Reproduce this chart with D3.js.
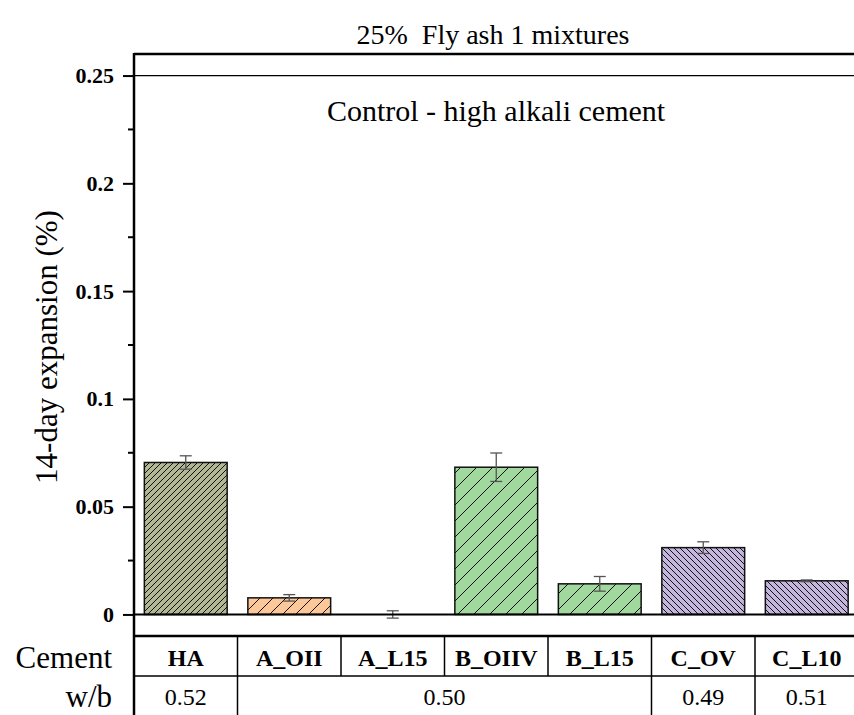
<!DOCTYPE html>
<html>
<head>
<meta charset="utf-8">
<script src="https://cdn.jsdelivr.net/npm/d3@7"></script>
<style>
  body { margin: 0; background: #fff; }
</style>
</head>
<body>
<div id="chart"></div>
<script>
const cements = ['HA', 'A_OII', 'A_L15', 'B_OIIV', 'B_L15', 'C_OV', 'C_L10'];
const expansion = [0.0705, 0.0077, 0.0, 0.0683, 0.0142, 0.0310, 0.0156];
const errors = [0.0031, 0.0015, 0.0017, 0.0066, 0.0034, 0.0027, 0.0004];
const groups = ['HA', 'A', 'A', 'B', 'B', 'C', 'C'];
const wbLabels = [
  { text: '0.52', from: 0, to: 0 },
  { text: '0.50', from: 1, to: 4 },
  { text: '0.49', from: 5, to: 5 },
  { text: '0.51', from: 6, to: 6 }
];
const controlValue = 0.25;
const yTicks = [0, 0.05, 0.1, 0.15, 0.2, 0.25];

const serif = "'Liberation Serif', 'DejaVu Serif', serif";

const chart = () => {
  const width = 854;
  const height = 715;
  const left = 134, right = 858.5, top = 54, bottom = 636;
  const row1 = 676;

  const svg = d3.select('#chart')
    .append('svg')
    .attr('width', width)
    .attr('height', height)
    .attr('font-family', serif)
    .style('font-family', serif);

  const x = d3.scaleBand()
    .domain(cements)
    .range([left, right])
    .paddingInner(0.2)
    .paddingOuter(0.1);
  const y = d3.scaleLinear()
    .domain([-0.01, 0.26])
    .range([bottom, top]);

  // hatch patterns per cement group
  const fills = {
    HA: { color: '#b3b894', size: 6, dir: 1 },
    A: { color: '#fdc899', size: 13, dir: 1 },
    B: { color: '#a0d89e', size: 16, dir: 1 },
    C: { color: '#c4b6dc', size: 6, dir: -1 }
  };
  const defs = svg.append('defs');
  Object.entries(fills).forEach(([k, f]) => {
    const p = defs.append('pattern')
      .attr('id', `hatch-${k}`)
      .attr('patternUnits', 'userSpaceOnUse')
      .attr('width', f.size)
      .attr('height', f.size);
    p.append('rect')
      .attr('width', f.size)
      .attr('height', f.size)
      .attr('fill', f.color);
    const s = f.size;
    const segs = f.dir > 0
      ? [[0, s, s, 0], [-s / 2, s / 2, s / 2, -s / 2], [s / 2, s * 1.5, s * 1.5, s / 2]]
      : [[0, 0, s, s], [-s / 2, s / 2, s / 2, s * 1.5], [s / 2, -s / 2, s * 1.5, s / 2]];
    segs.forEach(d => p.append('line')
      .attr('x1', d[0]).attr('y1', d[1]).attr('x2', d[2]).attr('y2', d[3])
      .attr('stroke', '#111')
      .attr('stroke-width', 1));
  });

  const label = (x0, y0, txt, size, anchor = 'middle', weight = 'normal') =>
    svg.append('text')
      .attr('x', x0)
      .attr('y', y0)
      .attr('text-anchor', anchor)
      .style('font-family', serif)
      .style('font-size', `${size}px`)
      .style('font-weight', weight)
      .text(txt);

  // title
  label(493, 44, '25%\u00a0\u00a0Fly ash 1 mixtures', 28);

  // control line
  svg.append('line')
    .attr('x1', left).attr('x2', width)
    .attr('y1', y(controlValue)).attr('y2', y(controlValue))
    .attr('stroke', '#000')
    .attr('stroke-width', 1.2);
  label(496, 121, 'Control - high alkali cement', 30);

  // bars
  svg.append('g')
    .selectAll('rect')
    .data(cements.filter((d, i) => expansion[i] > 0))
    .join('rect')
    .attr('x', d => x(d))
    .attr('y', d => y(expansion[cements.indexOf(d)]))
    .attr('width', x.bandwidth())
    .attr('height', d => y(0) - y(expansion[cements.indexOf(d)]))
    .attr('fill', d => `url(#hatch-${groups[cements.indexOf(d)]})`)
    .attr('stroke', '#111')
    .attr('stroke-width', 1.5);

  // error bars
  const err = svg.append('g')
    .attr('stroke', '#555')
    .attr('stroke-width', 1.3);
  cements.forEach((c, i) => {
    const cx = x(c) + x.bandwidth() / 2;
    const y1 = y(expansion[i] + errors[i]);
    const y2 = y(expansion[i] - errors[i]);
    err.append('line').attr('x1', cx).attr('x2', cx).attr('y1', y1).attr('y2', y2);
    err.append('line').attr('x1', cx - 6).attr('x2', cx + 6).attr('y1', y1).attr('y2', y1);
    err.append('line').attr('x1', cx - 6).attr('x2', cx + 6).attr('y1', y2).attr('y2', y2);
  });

  // zero line
  svg.append('line')
    .attr('x1', left).attr('x2', width)
    .attr('y1', y(0)).attr('y2', y(0))
    .attr('stroke', '#000')
    .attr('stroke-width', 2);

  // y axis
  const yAxis = svg.append('g')
    .attr('transform', `translate(${left},0)`)
    .call(d3.axisLeft(y)
      .tickValues(yTicks)
      .tickSize(11)
      .tickPadding(9)
      .tickFormat(d => d === 0 ? '0' : String(+d.toFixed(2))));
  yAxis.attr('font-family', serif);
  yAxis.select('.domain').remove();
  yAxis.selectAll('.tick line').attr('stroke-width', 2);
  yAxis.selectAll('.tick text')
    .style('font-size', '22px')
    .style('font-weight', 'bold')
    .style('font-family', serif);
  const minor = d3.range(0.025, 0.25, 0.05);
  svg.append('g')
    .selectAll('line')
    .data(minor)
    .join('line')
    .attr('x1', left - 6).attr('x2', left)
    .attr('y1', d => y(d)).attr('y2', d => y(d))
    .attr('stroke', '#000')
    .attr('stroke-width', 2);

  // frame
  svg.append('line')
    .attr('x1', left).attr('x2', width)
    .attr('y1', top).attr('y2', top)
    .attr('stroke', '#000').attr('stroke-width', 2.5);
  svg.append('line')
    .attr('x1', left).attr('x2', left)
    .attr('y1', top - 1).attr('y2', height)
    .attr('stroke', '#000').attr('stroke-width', 2.5);
  svg.append('line')
    .attr('x1', left).attr('x2', width)
    .attr('y1', bottom).attr('y2', bottom)
    .attr('stroke', '#000').attr('stroke-width', 2.5);

  svg.append('text')
    .attr('transform', 'translate(57,347) rotate(-90)')
    .attr('text-anchor', 'middle')
    .style('font-family', serif)
    .style('font-size', '31px')
    .text('14-day expansion (%)');

  // table
  const step = x.step();
  const colX = i => left + i * step;
  svg.append('line')
    .attr('x1', left).attr('x2', width)
    .attr('y1', row1).attr('y2', row1)
    .attr('stroke', '#000').attr('stroke-width', 1.5);
  svg.append('g')
    .selectAll('line')
    .data(d3.range(1, cements.length))
    .join('line')
    .attr('x1', colX).attr('x2', colX)
    .attr('y1', bottom).attr('y2', row1)
    .attr('stroke', '#000').attr('stroke-width', 1.5);
  svg.append('g')
    .selectAll('line')
    .data(wbLabels.slice(1))
    .join('line')
    .attr('x1', d => colX(d.from)).attr('x2', d => colX(d.from))
    .attr('y1', row1).attr('y2', height)
    .attr('stroke', '#000').attr('stroke-width', 1.5);
  cements.forEach(c => label(x(c) + x.bandwidth() / 2, 666, c, 24, 'middle', 'bold'));
  wbLabels.forEach(d => label((colX(d.from) + colX(d.to + 1)) / 2, 705, d.text, 24));
  label(112, 668, 'Cement', 31, 'end');
  label(112, 707, 'w/b', 31, 'end');
}

chart();
</script>
</body>
</html>
